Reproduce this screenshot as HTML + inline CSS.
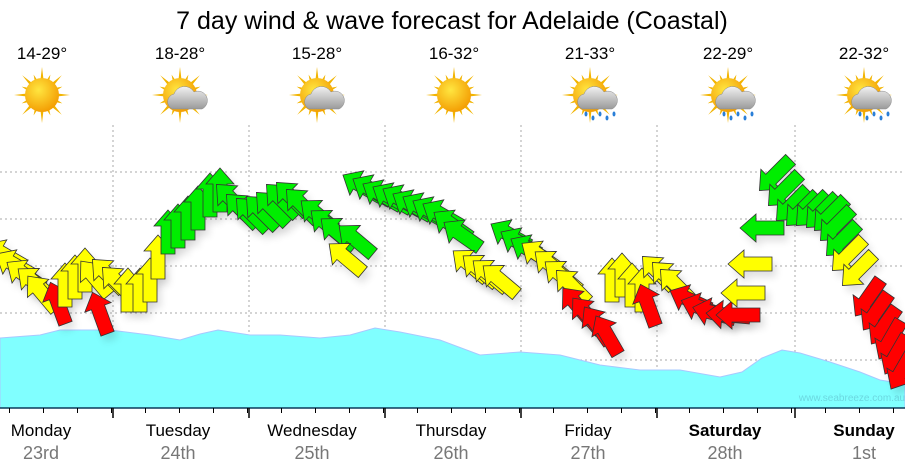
<!DOCTYPE html>
<html><head><meta charset="utf-8"><style>
html,body{margin:0;padding:0;background:#fff;width:905px;height:475px;overflow:hidden}
</style></head><body>
<svg id="s" width="905" height="475" xmlns="http://www.w3.org/2000/svg" font-family="Liberation Sans, sans-serif">
<defs>
<radialGradient id="sun" cx="0.4" cy="0.35" r="0.7"><stop offset="0" stop-color="#ffe640"/><stop offset="1" stop-color="#f39a00"/></radialGradient>
<linearGradient id="cl" x1="0" y1="0" x2="0" y2="1"><stop offset="0" stop-color="#f2f2f2"/><stop offset="1" stop-color="#9a9a9a"/></linearGradient>
<filter id="sh" x="-50%" y="-50%" width="200%" height="200%"><feGaussianBlur stdDeviation="4"/></filter>
</defs>
<text x="452" y="29" font-size="25" text-anchor="middle" fill="#000">7 day wind &amp; wave forecast for Adelaide (Coastal)</text>
<g id="grid" stroke="#aaa" stroke-dasharray="2,3" stroke-width="1"></g>
<path d="M0,338 L40,335 L60,330 L110,330 L150,335 L180,340 L200,334 L218,330 L250,335 L280,335 L320,338 L350,335 L375,328 L400,332 L440,340 L480,355 L520,352 L560,355 L600,365 L640,370 L680,370 L720,377 L742,372 L762,358 L782,350 L800,353 L830,362 L860,372 L880,380 L905,384 L905,408 L0,408 Z" fill="#80ffff" stroke="#a8c8ff" stroke-width="1"/>
<text x="852" y="401" font-size="10" text-anchor="middle" fill="#6cd8e0">www.seabreeze.com.au</text>
<g id="arr"></g>
<line x1="0" y1="408" x2="905" y2="408" stroke="#0b3a5a" stroke-width="1.5"/>
<g id="ticks" stroke="#000" stroke-width="1"></g>
<g id="lab" font-size="17" text-anchor="middle"></g>
<g id="icons"></g>
</svg>
<script>
var NS="http://www.w3.org/2000/svg";
function el(t,a,p){var e=document.createElementNS(NS,t);for(var k in a)e.setAttribute(k,a[k]);p.appendChild(e);return e;}
var grid=document.getElementById('grid');
[172,219,266,313,360].forEach(function(y){el('line',{x1:0,y1:y,x2:905,y2:y},grid);});
var majors=[113,249,385,521,657,795];
majors.forEach(function(x){el('line',{x1:x,y1:125,x2:x,y2:408},grid);});
var tk=document.getElementById('ticks');
for(var x=9.5;x<905;x+=34){el('line',{x1:x,y1:408,x2:x,y2:413},tk);}
majors.forEach(function(x){el('line',{x1:x,y1:408,x2:x,y2:418,'stroke-width':1.5},tk);});
var lab=document.getElementById('lab');
var days=[["Monday","23rd",41],["Tuesday","24th",178],["Wednesday","25th",312],["Thursday","26th",451],["Friday","27th",588],["Saturday","28th",725],["Sunday","1st",864]];
days.forEach(function(d,i){var t=el('text',{x:d[2],y:436,fill:'#000'},lab);t.textContent=d[0];if(i>=5)t.setAttribute('font-weight','bold');
var u=el('text',{x:d[2],y:459,fill:'#777','font-size':18},lab);u.textContent=d[1];});
var ic=document.getElementById('icons');
var temps=["14-29°","18-28°","15-28°","16-32°","21-33°","22-29°","22-32°"];
var types=[0,1,1,0,2,2,2];
var cx=[42,180,317,454,590,728,864];
temps.forEach(function(t,i){var x=cx[i];var tt=el('text',{x:x,y:59,'font-size':17,'text-anchor':'middle',fill:'#000'},ic);tt.textContent=t;
 var g=el('g',{},ic);var c=95;
 for(var k=0;k<16;k++){var a=k*Math.PI/8,L=(k%2?22:28);var a1=a-0.12,a2=a+0.12;
  el('polygon',{points:(x+Math.cos(a1)*14)+','+(c+Math.sin(a1)*14)+' '+(x+Math.cos(a)*L)+','+(c+Math.sin(a)*L)+' '+(x+Math.cos(a2)*14)+','+(c+Math.sin(a2)*14),fill:'#f2b400'},g);}
 el('circle',{cx:x,cy:c,r:17,fill:'url(#sun)'},g);
 if(types[i]>0){var cg=el('g',{},g);
  el('path',{d:'M'+(x-8)+','+(c+14)+' a8,8 0 0 1 2,-15 a11,11 0 0 1 20,-2 a8,8 0 0 1 8,17 z',fill:'url(#cl)',stroke:'#888','stroke-width':0.5},cg);
  if(types[i]==2){for(var r=0;r<5;r++){el('ellipse',{cx:x-4+r*7,cy:c+19+(r%2)*4,rx:1.5,ry:2.5,fill:'#2a7fd8'},cg);}}
 }
});
var Y='#ffff00',G='#00ee00',R='#ff0000';
var A=[
[5,255,-60,Y],[15,265,-60,Y],[25,275,-55,Y],[35,283,-50,Y],[42,293,-40,Y],[58,303,-20,R],
[65,285,0,Y],[75,277,0,Y],[85,270,0,Y],[95,278,-40,Y],[108,275,-45,Y],[118,283,-45,Y],[100,313,-20,R],
[128,290,0,Y],[140,290,0,Y],[150,280,0,Y],[158,257,0,Y],
[168,232,0,G],[178,226,0,G],[188,218,0,G],[198,208,0,G],[210,195,0,G],[220,190,0,G],
[232,200,-45,G],[242,210,-45,G],[252,214,-45,G],[262,212,-45,G],[272,208,-45,G],[282,200,-45,G],[292,198,-45,G],[302,205,-45,G],
[318,215,-50,G],[328,225,-50,G],[338,233,-50,G],[356,240,-50,G],[346,258,-50,Y],
[362,186,-60,G],[372,190,-60,G],[382,195,-60,G],[392,198,-60,G],[402,200,-60,G],[412,205,-60,G],[422,208,-60,G],[432,212,-60,G],[442,215,-60,G],[452,225,-55,G],[462,235,-55,G],
[470,265,-50,Y],[480,270,-50,Y],[490,275,-50,Y],[500,280,-50,Y],
[510,235,-60,G],[520,243,-60,G],[530,250,-60,G],[540,256,-55,Y],[552,266,-50,Y],[562,276,-50,Y],[572,286,-45,Y],
[577,305,-40,R],[587,315,-40,R],[597,325,-35,R],[607,335,-30,R],
[612,280,0,Y],[622,275,0,Y],[632,285,0,Y],[642,290,0,Y],[648,305,-20,R],[658,272,-45,Y],[668,278,-45,Y],[676,285,-45,Y],
[690,300,-65,R],[702,308,-70,R],[714,313,-75,R],[728,315,-85,R],[738,315,-90,R],
[743,293,-90,Y],[750,264,-90,Y],[762,228,-90,G],
[775,175,225,G],[784,190,225,G],[792,205,225,G],[802,210,225,G],[812,210,225,G],[822,212,225,G],[830,215,225,G],[836,225,225,G],[842,240,225,G],
[848,255,225,Y],[858,270,225,Y],
[868,298,215,R],[876,312,215,R],[884,326,215,R],[890,340,210,R],[896,355,210,R],[902,370,210,R]
];
var ar=document.getElementById('arr');
var pts="0,-22 14,-6 7,-6 7,22 -7,22 -7,-6 -14,-6";
A.forEach(function(a){el('polygon',{points:pts,fill:'#000',opacity:0.12,filter:'url(#sh)',transform:'translate('+(a[0]+4)+','+(a[1]+6)+') rotate('+a[2]+')'},ar);});
A.forEach(function(a){el('polygon',{points:pts,fill:a[3],stroke:'#333','stroke-width':0.8,transform:'translate('+a[0]+','+a[1]+') rotate('+a[2]+')'},ar);});
</script>
</body></html>
